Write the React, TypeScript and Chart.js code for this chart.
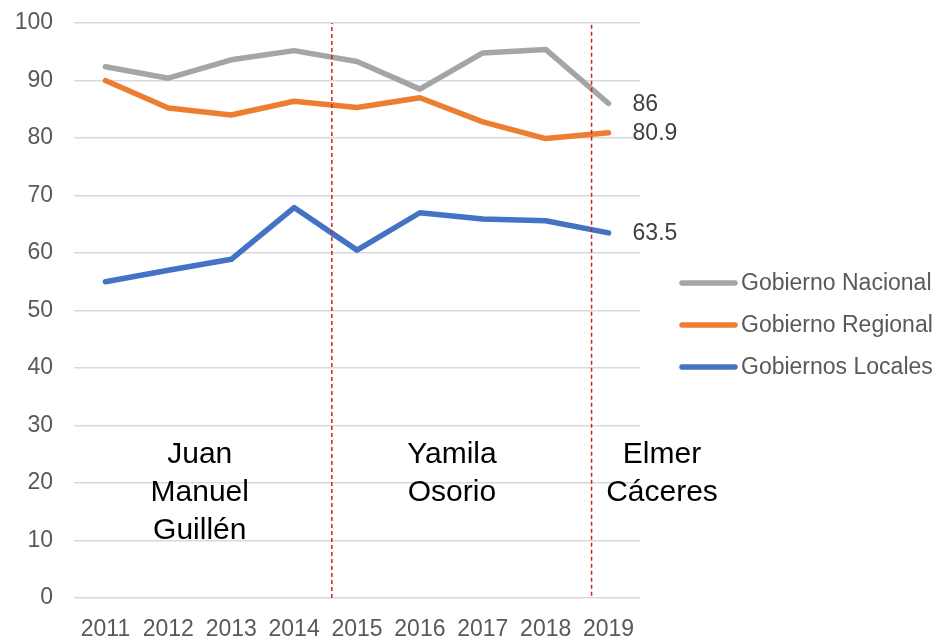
import React, { useEffect, useRef } from "react";
import { Chart, registerables } from "chart.js";

Chart.register(...registerables);

const years = [2011, 2012, 2013, 2014, 2015, 2016, 2017, 2018, 2019];
const nacional = [92.4, 90.4, 93.6, 95.2, 93.3, 88.5, 94.8, 95.4, 86];
const regional = [90.0, 85.2, 84.0, 86.4, 85.3, 87.0, 82.8, 79.9, 80.9];
const locales = [55.0, 57.0, 58.9, 67.9, 60.5, 67.0, 65.9, 65.6, 63.5];

const seriesNames = ["Gobierno Nacional", "Gobierno Regional", "Gobiernos Locales"];
const seriesColors = ["#A5A5A5", "#ED7D31", "#4472C4"];

// period dividers (x in year units, y range)
const dividerX = [2010.47, 2014.6, 2018.73];
const dividerFrom = [5.7, 0, 0.4];
const dividerTo = [88.7, 100, 100];

// governor names per period
const governors = [["Juan", "Manuel", "Guillén"], ["Yamila", "Osorio"], ["Elmer", "Cáceres"]];
const governorX = [2012.5, 2016.51, 2019.85];
const governorY = 25.0;

const FONT = "'Liberation Sans', Arial, sans-serif";
const GRAY_TEXT = "#595959";

const overlayPlugin = {
  id: "overlay",
  afterDatasetsDraw(chart: any) {
    const { ctx, scales } = chart;
    const xs = scales.x;
    const ys = scales.y;
    ctx.save();
    // governor names
    ctx.fillStyle = "#000000";
    ctx.font = `30px ${FONT}`;
    ctx.textAlign = "center";
    ctx.textBaseline = "middle";
    governors.forEach((lines, i) => {
      const cx = xs.getPixelForValue(governorX[i]);
      const cy = ys.getPixelForValue(governorY);
      lines.forEach((t, j) => ctx.fillText(t, cx, cy + j * 38));
    });
    // end labels
    ctx.fillStyle = "#404040";
    ctx.font = `23px ${FONT}`;
    ctx.textAlign = "left";
    const all = [nacional, regional, locales];
    all.forEach((arr) => {
      const v = arr[arr.length - 1];
      const px = xs.getPixelForValue(years[years.length - 1]) + 24;
      const py = ys.getPixelForValue(v) + 1;
      ctx.fillText(String(v), px, py);
    });
    // legend
    ctx.font = `23px ${FONT}`;
    ctx.fillStyle = GRAY_TEXT;
    seriesNames.forEach((name, i) => {
      const y = 283 + i * 42;
      ctx.strokeStyle = seriesColors[i];
      ctx.lineWidth = 5.5;
      ctx.lineCap = "round";
      ctx.beginPath();
      ctx.moveTo(682, y);
      ctx.lineTo(735, y);
      ctx.stroke();
      ctx.fillText(name, 741, y + 1);
    });
    ctx.restore();
  },
};

export default function App() {
  const ref = useRef<HTMLCanvasElement>(null);
  useEffect(() => {
    if (!ref.current) return;
    const seriesData = [nacional, regional, locales];
    const dividerSets = dividerX.map((x, i) => ({
      label: "divider" + i,
      data: [
        { x, y: dividerFrom[i] },
        { x, y: dividerTo[i] },
      ],
      borderColor: "#D02020",
      borderWidth: 1.5,
      borderDash: [4, 3],
      pointRadius: 0,
      fill: false,
    }));
    const lineSets = seriesData.map((arr, i) => ({
      label: seriesNames[i],
      data: arr.map((v, k) => ({ x: years[k], y: v })),
      borderColor: seriesColors[i],
      backgroundColor: seriesColors[i],
      borderWidth: 5.5,
      pointRadius: 0,
      borderCapStyle: "round",
      borderJoinStyle: "round",
      tension: 0,
      fill: false,
    }));
    const chart = new Chart(ref.current, {
      type: "line",
      data: { datasets: [...dividerSets, ...lineSets] as any },
      options: {
        animation: false,
        responsive: false,
        maintainAspectRatio: false,
        layout: { padding: { top: 23, right: 304, left: 0, bottom: 0 } },
        scales: {
          x: {
            type: "linear",
            min: 2010.5,
            max: 2019.5,
            grid: { display: false },
            border: { display: false },
            afterBuildTicks: (s: any) => {
              s.ticks = years.map((v) => ({ value: v }));
            },
            ticks: {
              autoSkip: false,
              maxRotation: 0,
              color: GRAY_TEXT,
              font: { size: 23, family: FONT },
              padding: 10,
              callback: (v: any) => String(v),
            },
            afterFit: (s: any) => {
              s.height = 40;
              s.paddingLeft = 0;
              s.paddingRight = 0;
            },
          },
          y: {
            min: 0,
            max: 100,
            grid: { color: "#D9D9D9", lineWidth: 1.5, drawTicks: false },
            border: { display: false },
            ticks: {
              stepSize: 10,
              color: GRAY_TEXT,
              font: { size: 23, family: FONT },
              padding: 21,
            },
            afterFit: (s: any) => {
              s.width = 74;
              s.paddingTop = 0;
              s.paddingBottom = 0;
            },
          },
        },
        plugins: { legend: { display: false }, tooltip: { enabled: false } },
      } as any,
      plugins: [overlayPlugin],
    });
    return () => chart.destroy();
  }, []);
  return (
    <div style={{ position: "fixed", left: 0, top: 0, width: 944, height: 638, background: "#fff" }}>
      <canvas ref={ref} width={944} height={638} style={{ width: 944, height: 638, display: "block" }} />
    </div>
  );
}
